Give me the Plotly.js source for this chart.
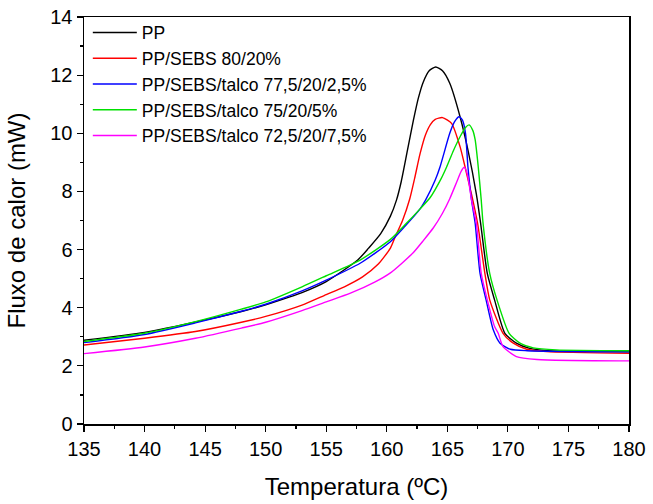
<!DOCTYPE html>
<html>
<head>
<meta charset="utf-8">
<script src="https://cdn.plot.ly/plotly-3.0.1.min.js"></script>
<style>html,body{margin:0;padding:0;background:#fff;}#chart{width:653px;height:504px;}</style>
</head>
<body>
<div id="chart"></div>
<script>
const seriesNames = ["PP", "PP/SEBS 80/20%", "PP/SEBS/talco 77,5/20/2,5%", "PP/SEBS/talco 75/20/5%", "PP/SEBS/talco 72,5/20/7,5%"];
const seriesColors = ["#000000", "#ff0000", "#0000ff", "#00e000", "#ff00ff"];

const ppT = [135, 140, 145, 148, 150, 152, 153, 155, 157.6, 158.5, 159.5, 160.3, 160.8, 161.2, 161.7, 162.2, 162.6, 163.0, 163.5, 164.04, 164.6, 165.2, 166.05, 166.7, 167.4, 167.75, 168.3, 168.9, 169.75, 170.7, 171.8, 173, 175, 180];
const ppY = [2.88, 3.15, 3.58, 3.87, 4.1, 4.37, 4.52, 4.9, 5.64, 6.05, 6.55, 7.15, 7.7, 8.35, 9.4, 10.45, 11.2, 11.75, 12.15, 12.28, 12.15, 11.72, 10.57, 9.43, 7.9, 6.9, 5.18, 4.27, 3.12, 2.78, 2.6, 2.53, 2.5, 2.48];

const sebsT = [135, 140, 144.2, 148, 150, 153, 155, 156.5, 158, 159.3, 160.3, 160.7, 161.3, 161.9, 162.3, 162.75, 163.2, 163.6, 164.0, 164.6, 165.35, 166.05, 166.6, 167.0, 167.5, 168.1, 168.5, 169.6, 170.45, 171.55, 173.2, 180];
const sebsY = [2.72, 2.95, 3.18, 3.5, 3.7, 4.09, 4.45, 4.72, 5.06, 5.5, 6.05, 6.44, 7.0, 7.75, 8.45, 9.3, 9.95, 10.3, 10.48, 10.54, 10.34, 9.54, 8.6, 7.9, 6.9, 5.18, 4.27, 3.12, 2.78, 2.57, 2.49, 2.43];

const t25T = [135, 140, 144.2, 148, 150, 153, 155, 157.8, 160.3, 161.5, 162.75, 163.2, 164.0, 164.4, 165.2, 165.6, 165.97, 166.25, 166.5, 166.7, 167.0, 167.3, 167.7, 168.2, 168.8, 169.35, 170.2, 171.6, 180];
const t25Y = [2.8, 3.08, 3.48, 3.88, 4.12, 4.58, 4.95, 5.53, 6.27, 6.8, 7.4, 7.7, 8.39, 8.85, 10.0, 10.4, 10.57, 10.45, 10.0, 8.85, 7.7, 6.9, 5.18, 4.27, 3.23, 2.78, 2.57, 2.52, 2.48];

const t5T = [135, 140, 144.2, 148, 150, 153, 155, 157.8, 160.3, 161.5, 162.75, 163.6, 164.5, 164.95, 165.5, 166.05, 166.5, 166.8, 167.1, 167.3, 167.55, 167.8, 167.95, 168.5, 169.1, 170.1, 171.0, 172.1, 174, 180];
const t5Y = [2.84, 3.12, 3.52, 3.95, 4.2, 4.72, 5.1, 5.64, 6.35, 6.85, 7.4, 7.8, 8.45, 8.85, 9.4, 9.88, 10.2, 10.29, 10.1, 9.77, 8.85, 7.7, 6.9, 5.18, 4.27, 3.12, 2.78, 2.62, 2.55, 2.52];

const t75T = [135, 140, 144.2, 148, 150, 153, 155, 157, 159, 160.3, 161.3, 162.2, 163.0, 163.85, 164.6, 165.2, 165.8, 166.15, 166.4, 166.65, 167.0, 167.4, 167.8, 168.3, 168.9, 169.2, 169.6, 170.7, 172.4, 180];
const t75Y = [2.42, 2.65, 2.95, 3.3, 3.5, 3.9, 4.2, 4.5, 4.88, 5.2, 5.55, 5.9, 6.3, 6.75, 7.25, 7.75, 8.35, 8.7, 8.83, 8.6, 7.7, 6.9, 5.18, 4.27, 3.35, 3.12, 2.66, 2.32, 2.22, 2.17];

const xTicks = [135, 140, 145, 150, 155, 160, 165, 170, 175, 180];
const yTicks = [0, 2, 4, 6, 8, 10, 12, 14];

const xs = [ppT, sebsT, t25T, t5T, t75T];
const ys = [ppY, sebsY, t25Y, t5Y, t75Y];

const traces = xs.map((x, i) => ({
  x: x, y: ys[i], type: "scatter", mode: "lines", name: seriesNames[i],
  line: {color: seriesColors[i], width: 1.4, shape: "spline", smoothing: 0.6}
}));

const font = {family: "Liberation Sans, Arial, sans-serif", color: "#000"};
const layout = {
  width: 653, height: 504,
  margin: {l: 84, r: 24, t: 17, b: 80},
  paper_bgcolor: "#fff", plot_bgcolor: "#fff",
  font: font,
  showlegend: true,
  legend: {x: 0.007, y: 1.006, xanchor: "left", yanchor: "top", bgcolor: "rgba(0,0,0,0)",
           itemwidth: 44, tracegroupgap: 0,
           font: {family: font.family, size: 17.5, color: "#000"}},
  xaxis: {
    range: [135, 180], tickvals: xTicks, ticktext: xTicks.map(String),
    ticks: "outside", ticklen: 6, tickwidth: 1.2, tickcolor: "#000",
    minor: {dtick: 2.5, ticks: "outside", ticklen: 3, tickwidth: 1.2, tickcolor: "#000", tick0: 135},
    showline: true, linecolor: "#000", linewidth: 1.5, mirror: true,
    showgrid: false, zeroline: false,
    tickfont: {family: font.family, size: 20, color: "#000"},
    title: {text: "Temperatura (ºC)", font: {family: font.family, size: 24, color: "#000"}, standoff: 19}
  },
  yaxis: {
    range: [0, 14], tickvals: yTicks, ticktext: yTicks.map(String),
    ticks: "outside", ticklen: 6, tickwidth: 1.2, tickcolor: "#000",
    minor: {dtick: 1, ticks: "outside", ticklen: 3, tickwidth: 1.2, tickcolor: "#000", tick0: 0},
    showline: true, linecolor: "#000", linewidth: 1.5, mirror: true,
    showgrid: false, zeroline: false,
    tickfont: {family: font.family, size: 20, color: "#000"},
    title: {text: "Fluxo de calor (mW)", font: {family: font.family, size: 24, color: "#000"}, standoff: 18}
  }
};

Plotly.newPlot("chart", traces, layout, {staticPlot: true, displayModeBar: false});
</script>
</body>
</html>
